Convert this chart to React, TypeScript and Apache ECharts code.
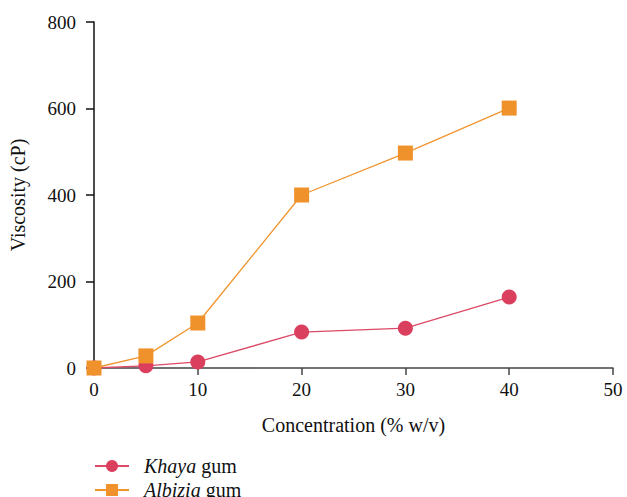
import React, { useEffect, useRef } from "react";
import * as echarts from "echarts";

const khayaX = [0, 5, 10, 20, 30, 40];
const khayaY = [0, 5, 14, 83, 92, 164];
const albiziaX = [0, 5, 10, 20, 30, 40];
const albiziaY = [0, 28, 104, 400, 497, 601];
const seriesNames = ["Khaya", "Albizia"];

const FONT = "Liberation Serif";

export default function App() {
  const ref = useRef<HTMLDivElement>(null);
  useEffect(() => {
    document.body.style.margin = "0";
    const chart = echarts.init(ref.current!, null, { renderer: "svg" });
    chart.setOption({
      animation: false,
      textStyle: { fontFamily: FONT },
      grid: { left: 94, top: 22, right: 14, bottom: 129 },
      legend: {
        orient: "vertical",
        left: 94,
        top: 456,
        height: 90,
        padding: 0,
        itemWidth: 34,
        itemHeight: 15,
        itemGap: 4,
        textStyle: {
          fontFamily: FONT,
          fontSize: 20,
          color: "#111",
          rich: {
            s: { width: 10 },
            i: { fontFamily: FONT, fontSize: 20, fontStyle: "italic", color: "#111" },
            n: { fontFamily: FONT, fontSize: 20, color: "#111" },
          },
        },
        formatter: (name: string) => `{s|}{i|${name}}{n| gum}`,
      },
      xAxis: {
        type: "value",
        min: 0,
        max: 50,
        interval: 10,
        name: "Concentration (% w/v)",
        nameLocation: "middle",
        nameGap: 47,
        nameTextStyle: { fontFamily: FONT, fontSize: 20, color: "#111" },
        splitLine: { show: false },
        axisLine: { show: true, lineStyle: { color: "#444", width: 1.5 } },
        axisTick: { show: true, length: 7, lineStyle: { color: "#444", width: 1.5 } },
        axisLabel: { fontFamily: FONT, fontSize: 19, color: "#111", margin: 12 },
      },
      yAxis: {
        type: "value",
        min: 0,
        max: 800,
        interval: 200,
        name: "Viscosity (cP)",
        nameLocation: "middle",
        nameGap: 66,
        nameTextStyle: { fontFamily: FONT, fontSize: 20, color: "#111" },
        splitLine: { show: false },
        axisLine: { show: true, lineStyle: { color: "#111", width: 1.5 } },
        axisTick: { show: true, length: 8, lineStyle: { color: "#111", width: 1.5 } },
        axisLabel: { fontFamily: FONT, fontSize: 19, color: "#111", margin: 18 },
      },
      series: [
        {
          name: seriesNames[0],
          type: "line",
          data: khayaX.map((x, i) => [x, khayaY[i]]),
          symbol: "circle",
          symbolSize: 15,
          lineStyle: { color: "#dc4a67", width: 1.3 },
          itemStyle: { color: "#db3f5e" },
          z: 2,
        },
        {
          name: seriesNames[1],
          type: "line",
          data: albiziaX.map((x, i) => [x, albiziaY[i]]),
          symbol: "rect",
          symbolSize: 15,
          lineStyle: { color: "#f0952e", width: 1.3 },
          itemStyle: { color: "#f0922b" },
          z: 3,
        },
      ],
    });
    return () => chart.dispose();
  }, []);
  return <div ref={ref} style={{ width: 627, height: 497 }} />;
}
